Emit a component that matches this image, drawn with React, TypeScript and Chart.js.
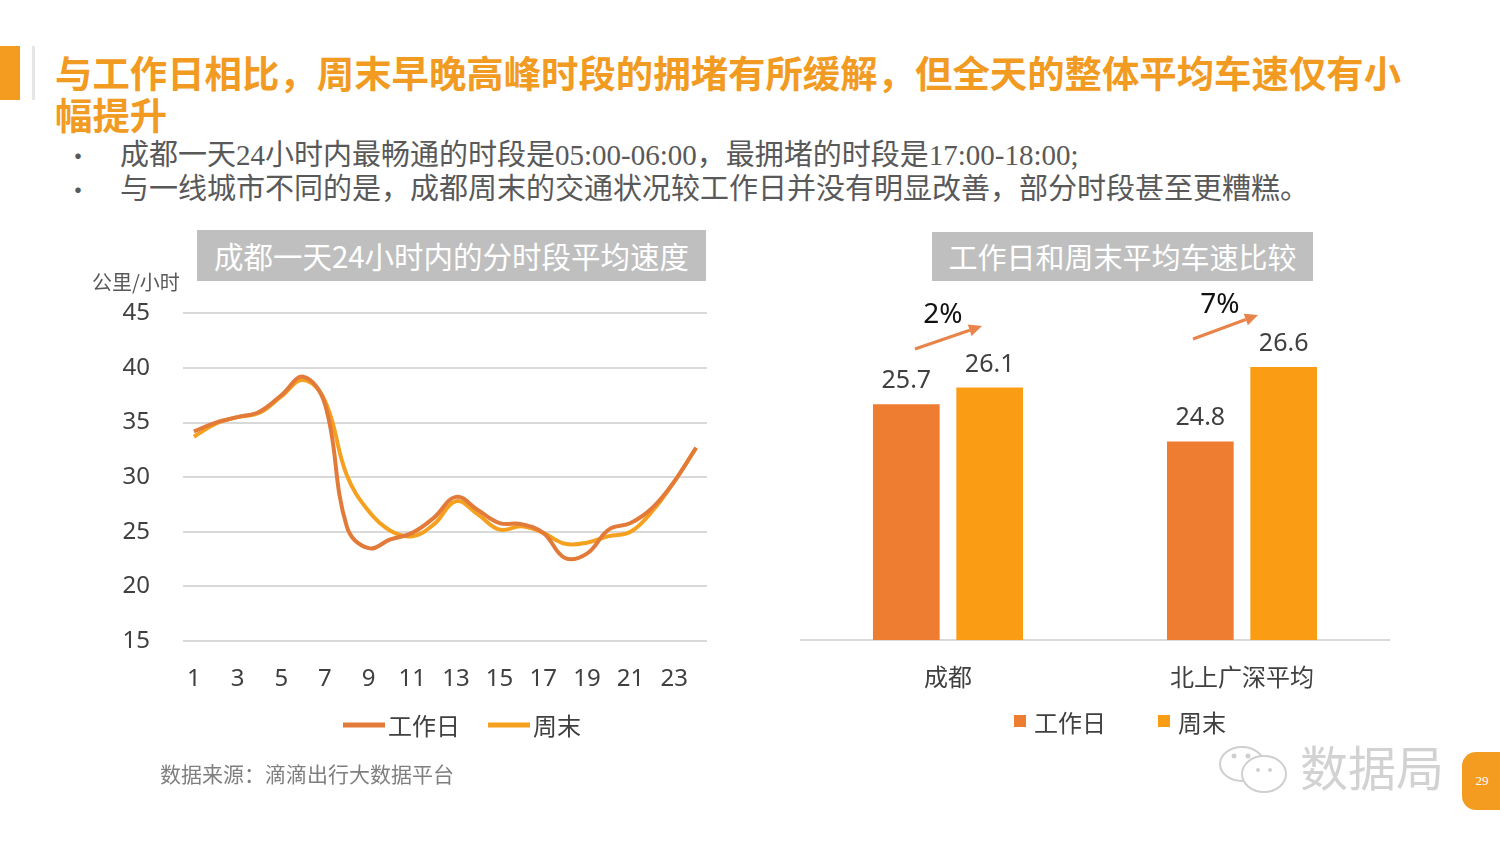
import React, { useEffect, useRef } from 'react';
import { Chart, registerables } from 'chart.js';

Chart.register(...registerables);

// ---------- data ----------
const HOURS = ['1', '2', '3', '4', '5', '6', '7', '8', '9', '10', '11', '12', '13', '14', '15', '16', '17', '18', '19', '20', '21', '22', '23', '24'];
const WORKDAY_SPEED = [34.2, 35.0, 35.5, 36.0, 37.5, 39.2, 36.7, 25.5, 23.5, 24.3, 24.9, 26.3, 28.2, 27.0, 25.8, 25.7, 24.9, 22.6, 23.0, 25.2, 25.8, 27.2, 29.6, 32.7];
const WEEKEND_SPEED = [33.7, 34.9, 35.5, 35.9, 37.4, 38.9, 37.0, 30.2, 26.9, 25.1, 24.6, 25.7, 27.8, 26.6, 25.2, 25.5, 24.9, 23.9, 24.0, 24.6, 25.0, 26.9, 29.6, 32.7];
const SPEED_AXIS = { min: 15, max: 45, step: 5 };

const CITIES = ['成都', '北上广深平均'];
const AVG_WORKDAY = [25.7, 24.8];
const AVG_WEEKEND = [26.1, 26.6];
const GROWTH = ['2%', '7%'];
const AVG_AXIS = { min: 20, max: 28 };

const SERIES_NAMES = ['工作日', '周末'];

// ---------- styles ----------
const FONT = '"Noto Sans", "Noto Sans CJK SC", sans-serif';
const CJK = '"Noto Sans CJK SC", "Noto Sans", sans-serif';
const LINE_COLORS = ['#E27B3A', '#F5A01E'];
const BAR_COLORS = ['#EE7D31', '#FA9D14'];
const TEXT = '#404040';
const GRID = '#d9d9d9';

// arrow annotation offsets (relative to category center / chart top)
const ARROW_LAYOUT = [
  { sx: -33, sy: 40, ex: 34, ey: 17, tx: -5, ty: 6 },
  { sx: -49, sy: 30, ex: 16, ey: 6, tx: -22, ty: -4 },
];

const customLegend = {
  id: 'customLegend',
  afterDraw(chart: any, _args: any, opts: any) {
    const { ctx, chartArea } = chart;
    ctx.save();
    ctx.font = `24px ${CJK}`;
    const ds = chart.data.datasets;
    const widths = ds.map((d: any) => ctx.measureText(d.label).width);
    let total = 0;
    ds.forEach((_d: any, i: number) => {
      total += opts.markerW + opts.markerGap + widths[i];
      if (i > 0) total += opts.itemGap;
    });
    let x = (chartArea.left + chartArea.right) / 2 + opts.dx - total / 2;
    const y = chartArea.bottom + opts.dy;
    ds.forEach((d: any, i: number) => {
      ctx.fillStyle = opts.colors[i];
      if (opts.kind === 'line') ctx.fillRect(x, y - 2.5, opts.markerW, 5);
      else ctx.fillRect(x, y - 7, opts.markerW, opts.markerW);
      x += opts.markerW + opts.markerGap;
      ctx.fillStyle = TEXT;
      ctx.textAlign = 'left';
      ctx.textBaseline = 'middle';
      ctx.fillText(d.label, x, y + 1);
      x += widths[i] + opts.itemGap;
    });
    ctx.restore();
  },
};

const barValueLabels = {
  id: 'barValueLabels',
  afterDatasetsDraw(chart: any) {
    const { ctx } = chart;
    ctx.save();
    ctx.font = `25px ${FONT}`;
    ctx.fillStyle = TEXT;
    ctx.textAlign = 'center';
    ctx.textBaseline = 'alphabetic';
    chart.data.datasets.forEach((d: any, di: number) => {
      const meta = chart.getDatasetMeta(di);
      meta.data.forEach((bar: any, i: number) => {
        ctx.fillText(String(d.data[i]), bar.x, bar.y - 16);
      });
    });
    ctx.restore();
  },
};

const growthArrows = {
  id: 'growthArrows',
  afterDatasetsDraw(chart: any) {
    const { ctx, chartArea } = chart;
    const xs = chart.scales.x;
    ctx.save();
    GROWTH.forEach((txt, i) => {
      const cx = xs.getPixelForValue(i);
      const L = ARROW_LAYOUT[i];
      const top = chartArea.top;
      const x1 = cx + L.sx, y1 = top + L.sy, x2 = cx + L.ex, y2 = top + L.ey;
      const ang = Math.atan2(y2 - y1, x2 - x1);
      const head = 13;
      const hx = x2 - Math.cos(ang) * head, hy = y2 - Math.sin(ang) * head;
      ctx.strokeStyle = '#E8834A';
      ctx.fillStyle = '#E8834A';
      ctx.lineWidth = 3;
      ctx.beginPath();
      ctx.moveTo(x1, y1);
      ctx.lineTo(hx, hy);
      ctx.stroke();
      ctx.beginPath();
      ctx.moveTo(x2, y2);
      ctx.lineTo(hx + Math.sin(ang) * 6, hy - Math.cos(ang) * 6);
      ctx.lineTo(hx - Math.sin(ang) * 6, hy + Math.cos(ang) * 6);
      ctx.closePath();
      ctx.fill();
      ctx.font = `28px ${FONT}`;
      ctx.fillStyle = '#111111';
      ctx.textAlign = 'center';
      ctx.textBaseline = 'middle';
      ctx.fillText(txt, cx + L.tx, top + L.ty);
    });
    ctx.restore();
  },
};

function LineChart() {
  const ref = useRef<HTMLCanvasElement>(null);
  useEffect(() => {
    const chart = new Chart(ref.current as HTMLCanvasElement, {
      type: 'line',
      data: {
        labels: HOURS,
        datasets: [
          { label: SERIES_NAMES[0], data: WORKDAY_SPEED, borderColor: LINE_COLORS[0], backgroundColor: LINE_COLORS[0], borderWidth: 4, pointRadius: 0, tension: 0.4, fill: false },
          { label: SERIES_NAMES[1], data: WEEKEND_SPEED, borderColor: LINE_COLORS[1], backgroundColor: LINE_COLORS[1], borderWidth: 4, pointRadius: 0, tension: 0.4, fill: false },
        ],
      },
      options: {
        animation: false,
        responsive: false,
        maintainAspectRatio: false,
        layout: { padding: { left: 0, right: 23, top: 22, bottom: 0 } },
        plugins: {
          legend: { display: false },
          tooltip: { enabled: false },
          customLegend: { kind: 'line', markerW: 42, markerGap: 3, itemGap: 28, dx: 17, dy: 84, colors: LINE_COLORS },
        } as any,
        scales: {
          x: {
            offset: true,
            grid: { display: false },
            border: { display: false },
            ticks: {
              autoSkip: false,
              maxRotation: 0,
              padding: 16,
              color: TEXT,
              font: { size: 24, family: FONT },
              callback: (_v: any, i: number) => (i % 2 === 0 ? HOURS[i] : ''),
            },
            afterFit: (s: any) => { s.height = 119; },
          },
          y: {
            min: SPEED_AXIS.min,
            max: SPEED_AXIS.max,
            grid: { color: GRID, lineWidth: 2, drawTicks: false },
            border: { display: false },
            ticks: { stepSize: SPEED_AXIS.step, padding: 33, color: TEXT, font: { size: 24, family: FONT } },
            afterFit: (s: any) => { s.width = 103; },
          },
        },
      },
      plugins: [customLegend],
    });
    return () => chart.destroy();
  }, []);
  return <canvas ref={ref} width={650} height={494} style={{ width: 650, height: 494 }} />;
}

function BarChart() {
  const ref = useRef<HTMLCanvasElement>(null);
  useEffect(() => {
    const chart = new Chart(ref.current as HTMLCanvasElement, {
      type: 'bar',
      data: {
        labels: CITIES,
        datasets: [
          { label: SERIES_NAMES[0], data: AVG_WORKDAY, backgroundColor: BAR_COLORS[0], categoryPercentage: 0.567, barPercentage: 0.8 },
          { label: SERIES_NAMES[1], data: AVG_WEEKEND, backgroundColor: BAR_COLORS[1], categoryPercentage: 0.567, barPercentage: 0.8 },
        ],
      },
      options: {
        animation: false,
        responsive: false,
        maintainAspectRatio: false,
        layout: { padding: { left: 11, right: 21, top: 19, bottom: 0 } },
        plugins: {
          legend: { display: false },
          tooltip: { enabled: false },
          customLegend: { kind: 'box', markerW: 12, markerGap: 8, itemGap: 52, dx: 25, dy: 82, colors: BAR_COLORS },
        } as any,
        scales: {
          x: {
            grid: { display: false },
            border: { display: true, color: GRID, width: 2 },
            ticks: { padding: 14, color: TEXT, font: { size: 24, family: CJK } },
            afterFit: (s: any) => { s.height = 120; },
          },
          y: { display: false, min: AVG_AXIS.min, max: AVG_AXIS.max },
        },
      },
      plugins: [customLegend, barValueLabels, growthArrows],
    });
    return () => chart.destroy();
  }, []);
  return <canvas ref={ref} width={620} height={470} style={{ width: 620, height: 470 }} />;
}

const abs = (s: React.CSSProperties): React.CSSProperties => ({ position: 'absolute', ...s });

export default function App() {
  return (
    <div style={{ position: 'absolute', left: 0, top: 0, width: 1500, height: 844, overflow: 'hidden', background: '#ffffff', fontFamily: CJK }}>
      <div style={abs({ left: 0, top: 46, width: 20, height: 54, background: '#F39C1F' })} />
      <div style={abs({ left: 32, top: 46, width: 3, height: 54, background: '#e6e6e6' })} />
      <div style={abs({ left: 55, top: 51, width: 1420, fontSize: 37.4, lineHeight: '42px', fontWeight: 700, color: '#F29B22', whiteSpace: 'nowrap' })}>
        与工作日相比，周末早晚高峰时段的拥堵有所缓解，但全天的整体平均车速仅有小<br />幅提升
      </div>
      <div style={abs({ left: 65, top: 138, fontSize: 26, lineHeight: '34px', color: '#595959' })}>•<br />•</div>
      <div style={abs({ left: 120, top: 138, fontSize: 29, lineHeight: '34px', color: '#595959', whiteSpace: 'nowrap', fontFamily: '"Liberation Serif", "Noto Sans CJK SC", serif' })}>
        成都一天24小时内最畅通的时段是05:00-06:00，最拥堵的时段是17:00-18:00;<br />
        与一线城市不同的是，成都周末的交通状况较工作日并没有明显改善，部分时段甚至更糟糕。
      </div>

      <div style={abs({ left: 197, top: 230, width: 509, height: 51, background: '#bfbfbf', color: '#ffffff', fontSize: 29.5, lineHeight: '51px', textAlign: 'center' })}>
        成都一天24小时内的分时段平均速度
      </div>
      <div style={abs({ left: 932, top: 232, width: 381, height: 49, background: '#bfbfbf', color: '#ffffff', fontSize: 29, lineHeight: '49px', textAlign: 'center' })}>
        工作日和周末平均车速比较
      </div>

      <div style={abs({ left: 80, top: 266, width: 650, height: 494 })}>
        <LineChart />
      </div>
      <div style={abs({ left: 790, top: 290, width: 620, height: 470 })}>
        <BarChart />
      </div>
      <div style={abs({ left: 92, top: 269, fontSize: 20, lineHeight: '26px', color: '#595959' })}>公里/小时</div>

      <div style={abs({ left: 160, top: 760, fontSize: 21, lineHeight: '26px', color: '#7f7f7f' })}>数据来源：滴滴出行大数据平台</div>

      <svg style={abs({ left: 1212, top: 740, width: 90, height: 60 })} viewBox="0 0 90 60">
        <ellipse cx="30" cy="24" rx="22" ry="17" fill="none" stroke="#cfcfcf" strokeWidth="2" />
        <ellipse cx="52" cy="34" rx="22" ry="18" fill="#ffffff" stroke="#cfcfcf" strokeWidth="2" />
        <circle cx="22" cy="16" r="2.5" fill="#cfcfcf" />
        <circle cx="36" cy="16" r="2.5" fill="#cfcfcf" />
        <circle cx="46" cy="30" r="2" fill="#cfcfcf" />
        <circle cx="58" cy="30" r="2" fill="#cfcfcf" />
      </svg>
      <div style={abs({ left: 1300, top: 736, fontSize: 48, lineHeight: '58px', color: '#d2d2d2' })}>数据局</div>
      <div style={abs({ left: 1462, top: 752, width: 40, height: 58, background: '#F39C1F', borderRadius: '14px 0 0 14px', color: '#ffffff', fontSize: 13, lineHeight: '58px', textAlign: 'center', fontFamily: '"Liberation Serif", serif' })}>29</div>
    </div>
  );
}
